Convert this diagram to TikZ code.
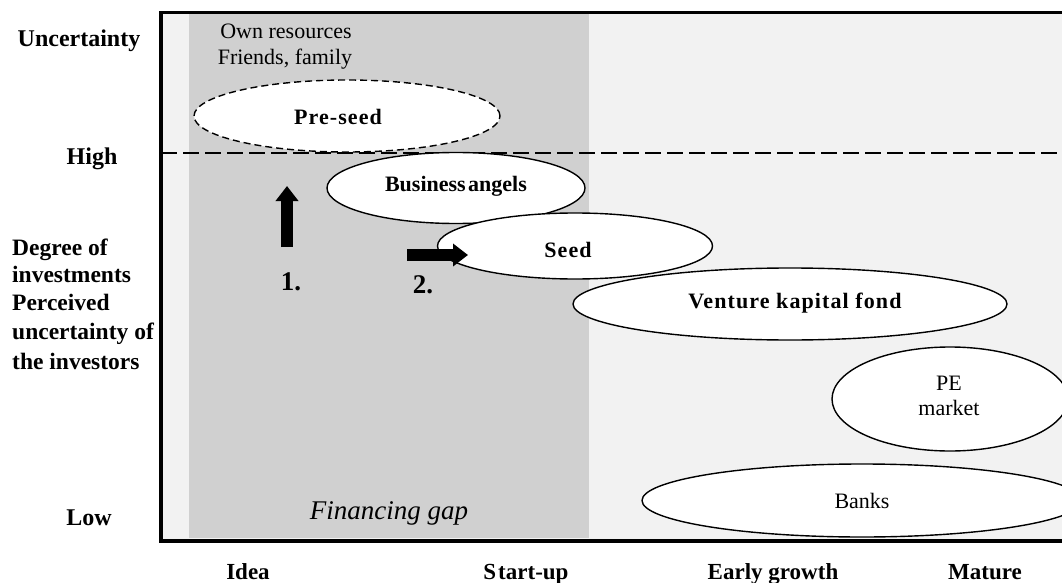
\documentclass[tikz,border=0pt]{standalone}
\usepackage{fontspec}
\setmainfont{Liberation Serif}
\newfontfamily\spacedbf[LetterSpace=5]{Liberation Serif}
\usetikzlibrary{shapes.geometric,arrows.meta}
\definecolor{lightbg}{RGB}{242,242,242}
\definecolor{gapgray}{RGB}{208,208,208}
\tikzset{
  fund/.style={ellipse, draw=black, line width=1.4pt, fill=white, inner sep=0pt},
  lbl/.style={font=\fontsize{22}{26}\selectfont, inner sep=0pt, anchor=base},
  axislab/.style={font=\fontsize{24}{28}\selectfont\bfseries, inner sep=0pt, anchor=base},
  botlab/.style={font=\fontsize{23}{28}\selectfont\bfseries, inner sep=0pt, anchor=base},
  sidelab/.style={font=\fontsize{23.5}{28}\selectfont\bfseries, inner sep=0pt, anchor=base west},
  bigarrow/.style={line width=11.5pt, -{Triangle[width=22pt,length=15pt]}},
}
\begin{document}
\begin{tikzpicture}[x=1pt,y=-1pt]
\useasboundingbox (0,0) rectangle (1062,583);
% backgrounds
\fill[lightbg] (161,12) rectangle (1062,541);
\fill[gapgray] (189,14) rectangle (589,538);
% frame
\draw[line width=3.5pt] (1062,12.5) -- (161,12.5) -- (161,541) -- (1062,541);
% left labels
\node[axislab] (unc) at (79,47) {Uncertainty};
\node[axislab] (high) at (92,164) {High};
\node[sidelab] (d1) at (12,255) {Degree of};
\node[sidelab] (d2) at (12,282) {investments};
\node[sidelab] (d3) at (12,310) {Perceived};
\node[sidelab] (d4) at (12,339) {uncertainty of};
\node[sidelab] (d5) at (12,369) {the investors};
\node[axislab] (low) at (89,525) {Low};
% bottom labels
\node[botlab] (idea) at (248,579) {Idea};
\node[botlab] (start) at (526,579) {S\kern2pt tart-up};
\node[botlab] (early) at (773,579) {Early growth};
\node[botlab] (mature) at (985,579) {Mature};
% top texts
\node[lbl] (own) at (286,39) {Own resources};
\node[lbl] (ff) at (285,65) {Friends, family};
% ellipses
\node[fund, dashed, dash pattern=on 7pt off 4pt, minimum width=306pt, minimum height=72pt] (pre) at (347,116) {};
\node[lbl, font=\fontsize{22}{26}\spacedbf\bfseries] (pret) at (338,124.5) {Pre-seed};
% dashed high line
\coordinate (hl) at (161,153);
\coordinate (hr) at (1062,153);
\draw[line width=1.8pt, dash pattern=on 16pt off 6pt] (hl) -- (hr);
\node[fund, minimum width=258pt, minimum height=71pt] (ba) at (456,188) {};
\node[lbl, font=\fontsize{22}{26}\selectfont\bfseries] (bat) at (456,191.5) {Business\hspace{-3pt} angels};
\node[fund, minimum width=275pt, minimum height=66pt] (seed) at (575,246) {};
\node[lbl, font=\fontsize{22}{26}\spacedbf\bfseries] (seedt) at (568,257) {Seed};
\node[fund, minimum width=434pt, minimum height=72pt] (vkf) at (790,304) {};
\node[lbl, font=\fontsize{22}{26}\spacedbf\bfseries] (vkft) at (795,308) {Venture kapital fond};
\node[fund, minimum width=236pt, minimum height=104pt] (pe) at (950,399) {};
\node[lbl] (pet) at (949,390) {PE};
\node[lbl] (pet2) at (949,415) {market};
\node[fund, minimum width=440pt, minimum height=73pt] (banks) at (862,500.5) {};
\node[lbl] (bankst) at (862,508) {Banks};
% arrows
\coordinate (a1s) at (287,247);
\coordinate (a1e) at (287,186);
\draw[bigarrow] (a1s) -- (a1e);
\coordinate (a2s) at (407,255);
\coordinate (a2e) at (468,255);
\draw[bigarrow] (a2s) -- (a2e);
\node[font=\fontsize{27}{30}\selectfont\bfseries, inner sep=0pt, anchor=base] (one) at (291,290) {1.};
\node[font=\fontsize{27}{30}\selectfont\bfseries, inner sep=0pt, anchor=base] (two) at (423,293) {2.};
% financing gap
\node[lbl, font=\fontsize{27}{30}\selectfont\itshape] (gap) at (389,519) {Financing gap};
\end{tikzpicture}
\end{document}
